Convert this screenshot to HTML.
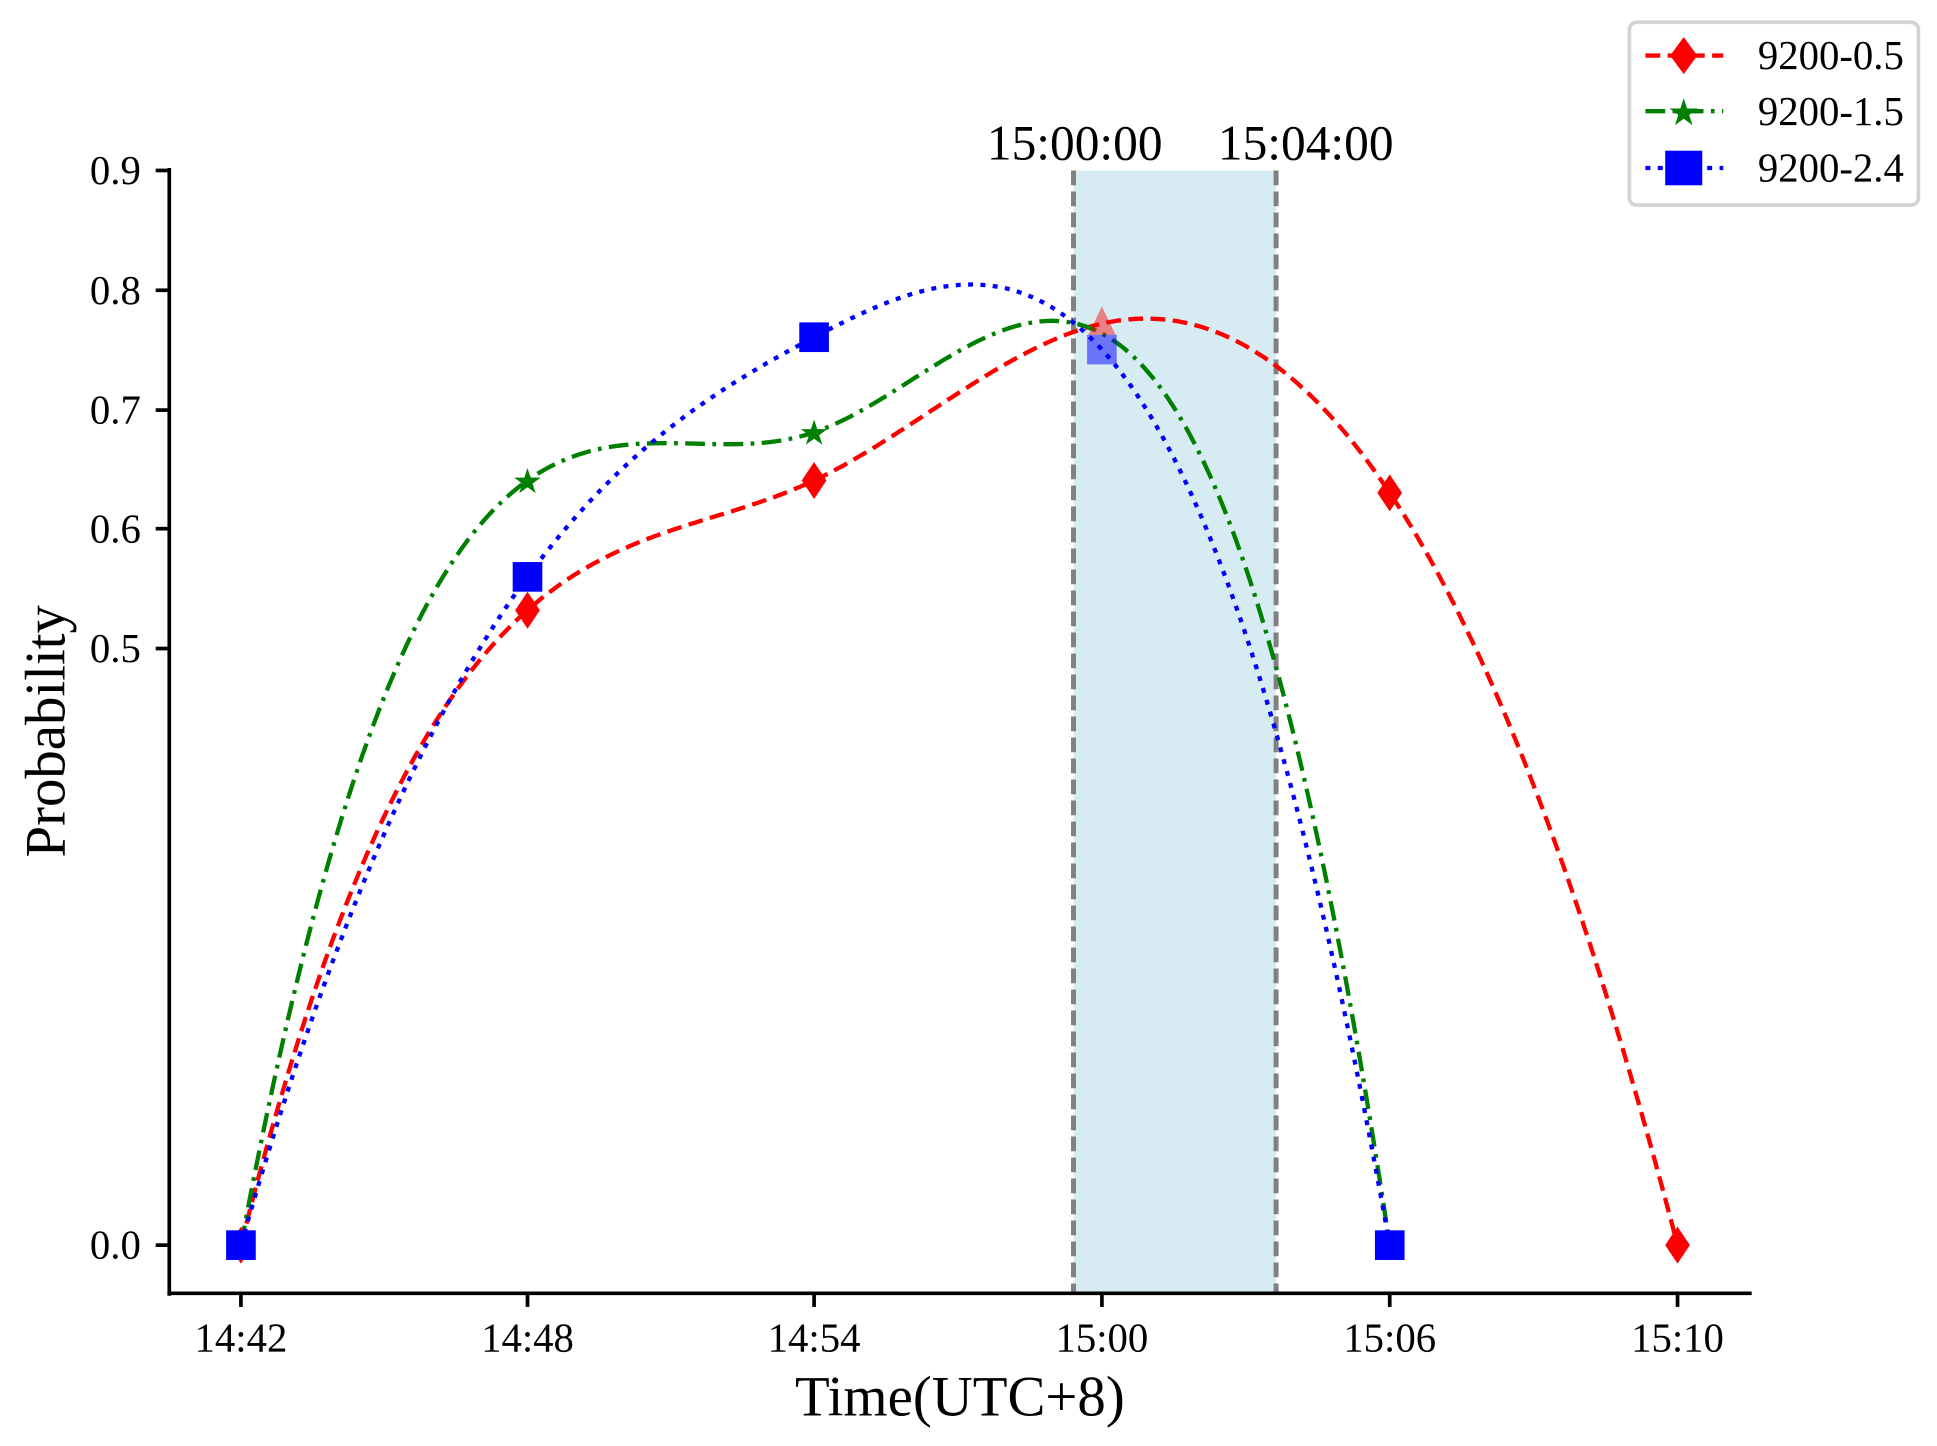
<!DOCTYPE html>
<html><head><meta charset="utf-8"><style>
html,body{margin:0;padding:0;background:#fff;}
svg{display:block;}
text{font-family:"Liberation Serif",serif;fill:#000;}
.tk{font-size:33px;}
.ax{font-size:46px;}
.an{font-size:40px;}
.lg{font-size:33px;}
</style></head><body>
<svg id="s" width="1937" height="1446" viewBox="0 0 1568 1170.6" xmlns="http://www.w3.org/2000/svg">
<rect x="869" y="138" width="164" height="909" fill="#add8e6" opacity="0.5"/>
<line x1="869" y1="138" x2="869" y2="1047" stroke="#808080" stroke-width="4" stroke-dasharray="12,5"/>
<line x1="1033" y1="138" x2="1033" y2="1047" stroke="#808080" stroke-width="4" stroke-dasharray="12,5"/>
<text class="an" x="870" y="129" text-anchor="middle">15:00:00</text>
<text class="an" x="1057" y="129" text-anchor="middle">15:04:00</text>
<g id="series"></g>
<line x1="137" y1="136" x2="137" y2="1049" stroke="#000" stroke-width="3"/>
<line x1="135.5" y1="1047" x2="1418" y2="1047" stroke="#000" stroke-width="3"/>
<g stroke="#000" stroke-width="3">
<line x1="126" y1="138" x2="137" y2="138"/><line x1="126" y1="235" x2="137" y2="235"/>
<line x1="126" y1="332" x2="137" y2="332"/><line x1="126" y1="428" x2="137" y2="428"/>
<line x1="126" y1="525" x2="137" y2="525"/><line x1="126" y1="1008" x2="137" y2="1008"/>
<line x1="195" y1="1047" x2="195" y2="1058"/><line x1="427" y1="1047" x2="427" y2="1058"/>
<line x1="659" y1="1047" x2="659" y2="1058"/><line x1="892" y1="1047" x2="892" y2="1058"/>
<line x1="1125" y1="1047" x2="1125" y2="1058"/><line x1="1358" y1="1047" x2="1358" y2="1058"/>
</g>
<g text-anchor="end">
<text class="tk" x="114" y="149">0.9</text><text class="tk" x="114" y="246">0.8</text><text class="tk" x="114" y="343">0.7</text>
<text class="tk" x="114" y="439">0.6</text><text class="tk" x="114" y="536">0.5</text><text class="tk" x="114" y="1019">0.0</text>
</g>
<g text-anchor="middle">
<text class="tk" x="195" y="1094">14:42</text><text class="tk" x="427" y="1094">14:48</text><text class="tk" x="659" y="1094">14:54</text>
<text class="tk" x="892" y="1094">15:00</text><text class="tk" x="1125" y="1094">15:06</text><text class="tk" x="1358" y="1094">15:10</text>
</g>
<text class="ax" x="777" y="1146" text-anchor="middle">Time(UTC+8)</text>
<text class="ax" transform="translate(52,592) rotate(-90)" text-anchor="middle">Probability</text>
<rect x="1319" y="18" width="234" height="148" rx="6" fill="#fff" stroke="#d3d3d3" stroke-width="3"/>
<line x1="1332" y1="45" x2="1395" y2="45" stroke="red" stroke-width="3.5" stroke-dasharray="12,6"/>
<polygon points="1363,30 1374,45 1363,60 1352,45" fill="red"/>
<line x1="1332" y1="90" x2="1395" y2="90" stroke="green" stroke-width="3.5" stroke-dasharray="16,6,3,6"/>
<text x="1363" y="101" fill="green" text-anchor="middle" style="fill:green;font-size:30px">★</text>
<line x1="1332" y1="136" x2="1395" y2="136" stroke="blue" stroke-width="3.5" stroke-dasharray="4,6"/>
<rect x="1348" y="122" width="30" height="28" fill="blue"/>
<g><text class="lg" x="1423" y="56">9200-0.5</text><text class="lg" x="1423" y="101">9200-1.5</text><text class="lg" x="1423" y="147">9200-2.4</text></g>
</svg>
<script>
function solve(A,b){var n=b.length;for(var i=0;i<n;i++){var p=i;for(var r=i+1;r<n;r++)if(Math.abs(A[r][i])>Math.abs(A[p][i]))p=r;var t=A[i];A[i]=A[p];A[p]=t;t=b[i];b[i]=b[p];b[p]=t;
for(r=i+1;r<n;r++){var f=A[r][i]/A[i][i];for(var c=i;c<n;c++)A[r][c]-=f*A[i][c];b[r]-=f*b[i];}}
var x=new Array(n);for(i=n-1;i>=0;i--){var s=b[i];for(c=i+1;c<n;c++)s-=A[i][c]*x[c];x[i]=s/A[i][i];}return x;}
function spline(xs,ys){var n=xs.length,h=[];for(var i=0;i<n-1;i++)h[i]=xs[i+1]-xs[i];
var A=[],b=[];for(i=0;i<n;i++){A.push(new Array(n).fill(0));b.push(0);}
A[0][0]=-1/h[0];A[0][1]=1/h[0]+1/h[1];A[0][2]=-1/h[1];
for(i=1;i<n-1;i++){A[i][i-1]=h[i-1];A[i][i]=2*(h[i-1]+h[i]);A[i][i+1]=h[i];b[i]=6*((ys[i+1]-ys[i])/h[i]-(ys[i]-ys[i-1])/h[i-1]);}
var k=n-1;A[k][k-2]=-1/h[k-2];A[k][k-1]=1/h[k-2]+1/h[k-1];A[k][k]=-1/h[k-1];
var M=solve(A,b);var p="";
for(i=0;i<n-1;i++){for(var t=0;t<=h[i];t+=2){var x=xs[i]+t,a=xs[i+1]-x,c=x-xs[i],H=h[i];
var y=M[i]*a*a*a/(6*H)+M[i+1]*c*c*c/(6*H)+(ys[i]/H-M[i]*H/6)*a+(ys[i+1]/H-M[i+1]*H/6)*c;
p+=(p?"L":"M")+x.toFixed(1)+","+y.toFixed(1);}}
p+="L"+xs[n-1]+","+ys[n-1];return p;}
var g=document.getElementById("series"),ns="http://www.w3.org/2000/svg";
function path(d,col,dash){var e=document.createElementNS(ns,"path");e.setAttribute("d",d);e.setAttribute("fill","none");e.setAttribute("stroke",col);e.setAttribute("stroke-width","3.5");e.setAttribute("stroke-dasharray",dash);g.appendChild(e);}
function el(tag,attrs){var e=document.createElementNS(ns,tag);for(var k in attrs)e.setAttribute(k,attrs[k]);g.appendChild(e);}
var X=[195,427,659,892,1125,1358];
path(spline(X,[1008,494,389,262,399,1008]),"red","12,6");
path(spline(X.slice(0,5),[1008,389,350,270,1008]),"green","16,6,3,6");
path(spline(X.slice(0,5),[1008,467,273,283,1008]),"blue","4,6");
[[195,1008],[427,494],[659,389],[1125,399],[1358,1008]].forEach(function(p){el("polygon",{points:(p[0])+","+(p[1]-15)+" "+(p[0]+10)+","+p[1]+" "+p[0]+","+(p[1]+15)+" "+(p[0]-10)+","+p[1],fill:"red"});});
el("polygon",{points:"892,248 903,271 881,271",fill:"red",opacity:"0.45"});
[[427,389],[659,350]].forEach(function(p){var t=document.createElementNS(ns,"text");t.setAttribute("x",p[0]);t.setAttribute("y",p[1]+10);t.setAttribute("text-anchor","middle");t.setAttribute("style","fill:green;font-size:28px");t.textContent="★";g.appendChild(t);});
[[195,1008],[427,467],[659,273],[1125,1008]].forEach(function(p){el("rect",{x:p[0]-12,y:p[1]-12,width:24,height:24,fill:"blue"});});
el("rect",{x:880,y:271,width:24,height:24,fill:"blue",opacity:"0.5"});
</script>
</body></html>
